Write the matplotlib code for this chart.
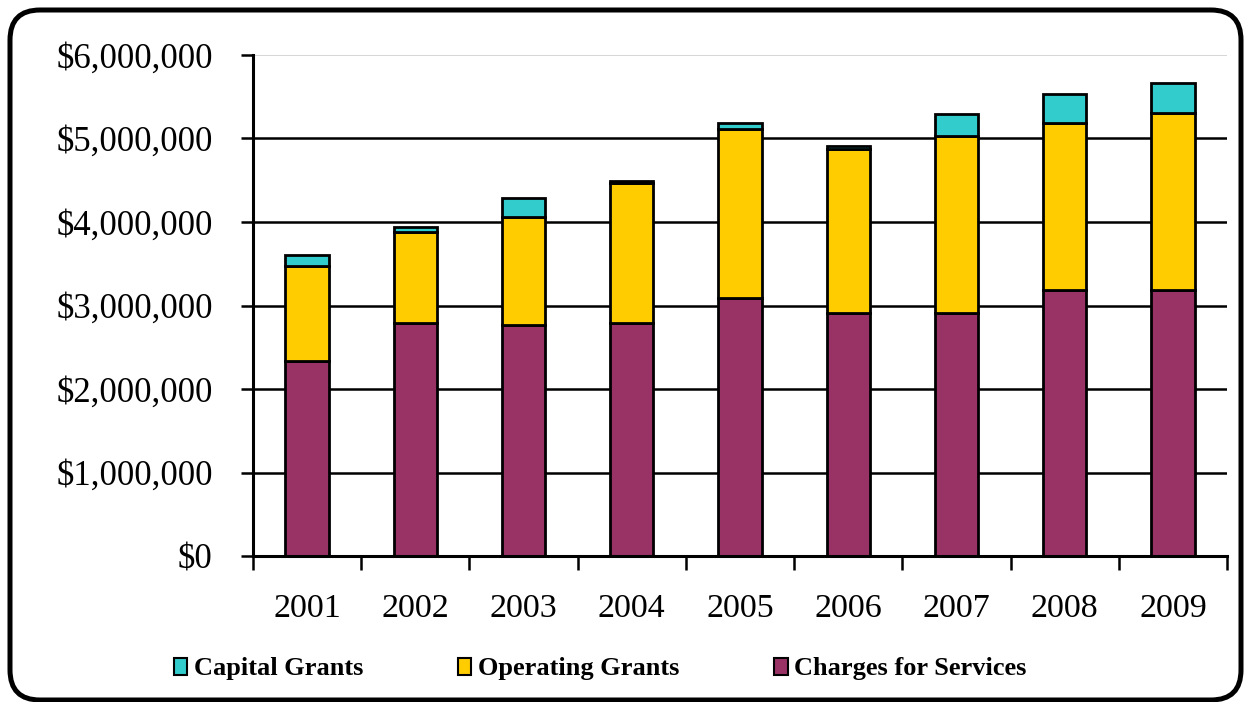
import numpy as np
import matplotlib.pyplot as plt
from matplotlib.patches import FancyBboxPatch, Patch
from matplotlib.ticker import FuncFormatter
from matplotlib.transforms import IdentityTransform

# ---- revenue sources by year ----
years = ["2001", "2002", "2003", "2004", "2005", "2006", "2007", "2008", "2009"]
charges = [2330000, 2790000, 2770000, 2790000, 3090000, 2910000, 2910000, 3190000, 3190000]
operating = [1140000, 1090000, 1290000, 1680000, 2020000, 1970000, 2120000, 2000000, 2110000]
capital = [130000, 60000, 230000, 20000, 80000, 30000, 260000, 340000, 360000]

c_capital = "#33CCCC"
c_operating = "#FFCC00"
c_charges = "#993366"

plt.rcParams["font.family"] = ["Liberation Serif", "DejaVu Serif"]

fig = plt.figure(figsize=(12.44, 7.02), dpi=100)
ax = fig.add_axes([253 / 1244, 1 - 556 / 702, (1227 - 253) / 1244, (556 - 55) / 702])

x = np.arange(len(years))
w = 0.4
charges = np.array(charges)
operating = np.array(operating)
capital = np.array(capital)

ax.bar(x, charges, w, color=c_charges, edgecolor="black", linewidth=2, zorder=3)
ax.bar(x, operating, w, bottom=charges, color=c_operating, edgecolor="black", linewidth=2, zorder=3)
ax.bar(x, capital, w, bottom=charges + operating, color=c_capital, edgecolor="black", linewidth=2, zorder=3)

ax.set_xlim(-0.5, len(years) - 0.5)
ax.set_ylim(0, 6000000)
ax.set_yticks(np.arange(0, 6000001, 1000000))
ax.yaxis.set_major_formatter(FuncFormatter(lambda v, p: f"${v:,.0f}"))

# horizontal gridlines; the top one is drawn faint
for v in range(1000000, 6000000, 1000000):
    ax.axhline(v, color="black", linewidth=1.8, zorder=1)
ax.axhline(6000000, color="#d0d0d0", linewidth=1.2, zorder=1)

ax.set_xticks(x)
ax.set_xticklabels(years)
ax.set_xticks(np.arange(-0.5, len(years)), minor=True)
ax.tick_params(axis="x", which="major", length=0, pad=27, labelsize=24.5)
ax.tick_params(axis="x", which="minor", length=10, width=1.8, direction="out")
ax.tick_params(axis="y", length=9, width=1.8, direction="out", pad=20, labelsize=25)

for s in ["top", "right"]:
    ax.spines[s].set_visible(False)
for s in ["left", "bottom"]:
    ax.spines[s].set_linewidth(2.2)
    ax.spines[s].set_zorder(4)

handles = [
    Patch(facecolor=c_capital, edgecolor="black", linewidth=1.5, label="Capital Grants"),
    Patch(facecolor=c_operating, edgecolor="black", linewidth=1.5, label="Operating Grants"),
    Patch(facecolor=c_charges, edgecolor="black", linewidth=1.5, label="Charges for Services"),
]
fig.legend(handles=handles, loc="center left", bbox_to_anchor=(174 / 1244, 1 - 669 / 702),
           ncol=3, frameon=False, handlelength=0.5, handleheight=0.6, handletextpad=0.25,
           columnspacing=3.6, borderaxespad=0, borderpad=0,
           prop={"weight": "bold", "size": 19})

# rounded frame around the whole chart
frame = FancyBboxPatch((10, 2), 1231, 690, boxstyle="round,pad=0,rounding_size=30",
                       transform=IdentityTransform(), fill=False, edgecolor="black",
                       linewidth=3.6)
fig.patches.append(frame)

fig.savefig("out.png", dpi=100)
